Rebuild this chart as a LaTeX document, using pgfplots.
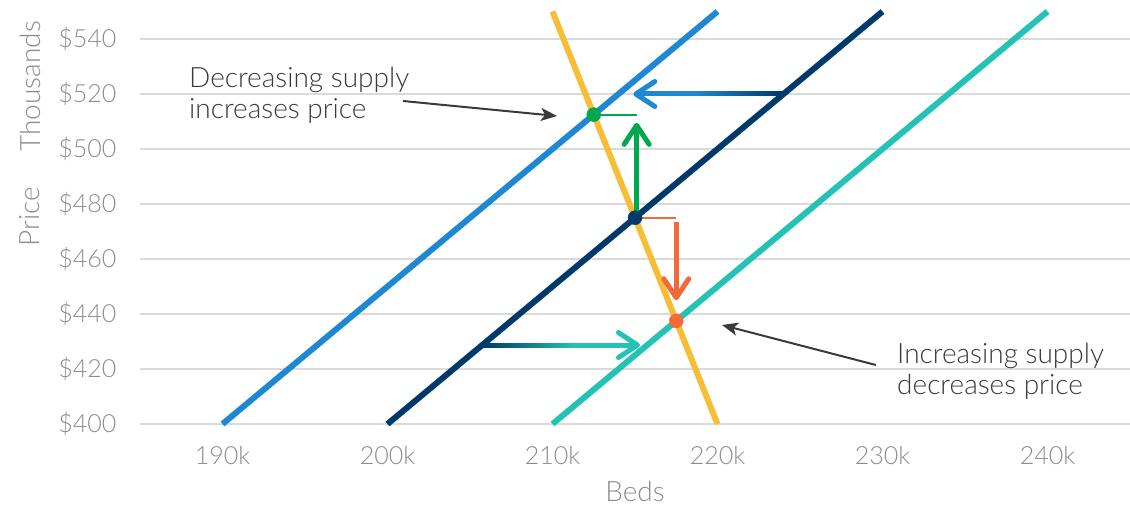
\documentclass[border=0pt]{standalone}
\usepackage{fontspec}
\setmainfont{Lato}[UprightFont=* Light]
\usepackage{pgfplots}
\pgfplotsset{compat=1.18}
\usetikzlibrary{arrows.meta}

\definecolor{lblue}{HTML}{1E88D2}
\definecolor{navy}{HTML}{003A6B}
\definecolor{tealc}{HTML}{22C3B5}
\definecolor{gold}{HTML}{F7BE35}
\definecolor{grn}{HTML}{00A84F}
\definecolor{orng}{HTML}{F26A3A}
\definecolor{gridc}{HTML}{DADADA}
\definecolor{labc}{HTML}{8C8C8C}
\definecolor{txtc}{HTML}{3A3A3A}

\tikzset{barb/.style={-{Straight Barb[length=19pt,width=25pt,round]}}}

\begin{document}
\begin{tikzpicture}
\useasboundingbox (-140pt,-82pt) rectangle (990pt,424pt);
\begin{axis}[
    width=990pt, height=412.5pt, scale only axis,
    xmin=185, xmax=245, ymin=400, ymax=550,
    axis line style={draw=none},
    major tick length=0pt,
    ymajorgrids,
    grid style={gridc, line width=1.5pt},
    xtick={190,200,...,240},
    ytick={400,420,...,540},
    xticklabel={\pgfmathprintnumber{\tick}k},
    yticklabel={\$\pgfmathprintnumber{\tick}},
    /pgf/number format/assume math mode=true,
    ticklabel style={font=\fontsize{25}{25}\selectfont, text=labc, inner sep=0pt},
    xticklabel style={anchor=north, yshift=-22pt},
    yticklabel style={anchor=base east, xshift=-23.5pt, yshift=-8.5pt},
    clip=false,
  ]
  % supply curves
  \addplot[lblue, line width=6pt] coordinates {(190,400) (220,550)};
  \addplot[navy, line width=6pt] coordinates {(200,400) (230,550)};
  \addplot[tealc, line width=6pt] coordinates {(210,400) (240,550)};
  % demand
  \addplot[gold, line width=6pt] coordinates {(210,550) (220,400)};

  % price guides
  \addplot[grn, line width=2pt] coordinates {(212.5,512.5) (215.1,512.5)};
  \addplot[orng, line width=2pt] coordinates {(215,475) (217.5,475)};

  % shift arrows, shaft blends from one curve colour to the other
  \pgfplotsinvokeforeach{0,5,...,100}{
    \draw[navy!#1!lblue, line width=5pt]
      (axis cs:{218.5+0.052*#1},520) -- (axis cs:{218.5+0.052*#1+0.3},520);
  }
  \draw[lblue, line width=5pt, barb] (axis cs:218.6,520) -- (axis cs:214.9,520);
  \pgfplotsinvokeforeach{0,5,...,100}{
    \draw[tealc!#1!navy, line width=5pt]
      (axis cs:{205.75+0.055*#1},428.7) -- (axis cs:{205.75+0.055*#1+0.3},428.7);
  }
  \draw[tealc, line width=5pt, barb] (axis cs:211.2,428.7) -- (axis cs:215.3,428.7);
  \draw[grn, line width=5pt, barb] (axis cs:215.1,475) -- (axis cs:215.1,509.5);
  \draw[orng, line width=5pt, barb] (axis cs:217.5,473.5) -- (axis cs:217.5,445);

  % equilibria
  \addplot[only marks, mark=*, mark size=7pt, grn] coordinates {(212.5,512.5)};
  \addplot[only marks, mark=*, mark size=7pt, navy] coordinates {(215,475)};
  \addplot[only marks, mark=*, mark size=7pt, orng] coordinates {(217.5,437.5)};

  % annotations
  \draw[txtc, line width=2pt, -{Stealth[length=16pt,width=13pt,inset=4pt]}]
    (axis cs:200.94,517.45) -- (axis cs:210.27,512);
  \draw[txtc, line width=2pt, -{Stealth[length=16pt,width=13pt,inset=4pt]}]
    (axis cs:229.6,421.45) -- (axis cs:220.27,436);
  \node[anchor=north west, align=left, inner sep=0pt, text=txtc,
        font=\fontsize{28}{31}\selectfont] at (axis cs:187.97,529.8)
        {Decreasing supply\\increases price};
  \node[anchor=north west, align=left, inner sep=0pt, text=txtc,
        font=\fontsize{28}{31}\selectfont] at (axis cs:230.88,429.5)
        {Increasing supply\\decreases price};

  % axis titles
  \node[rotate=90, text=labc, font=\fontsize{28}{28}\selectfont]
    at ([xshift=-110pt]rel axis cs:0,0.502) {Price};
  \node[rotate=90, text=labc, font=\fontsize{28}{28}\selectfont]
    at ([xshift=-110pt]rel axis cs:0,0.819) {Thousands};
  \node[text=labc, font=\fontsize{28}{28}\selectfont]
    at ([yshift=-67pt]rel axis cs:0.5,0) {Beds};
\end{axis}
\end{tikzpicture}
\end{document}
